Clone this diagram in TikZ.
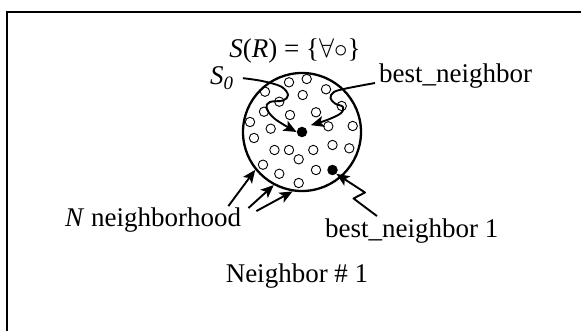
\RequirePackage{fix-cm}
\documentclass[tikz,border=0pt]{standalone}
\usepackage{fontspec}
\setmainfont{Liberation Serif}
\usepackage{tikz}
\usetikzlibrary{arrows.meta}

\begin{document}
\begin{tikzpicture}[x=1pt, y=-1pt,
    lbl/.style={font=\fontsize{27}{32}\selectfont, inner sep=0pt},
    pointer/.style={-{Stealth[length=13pt,width=11pt,inset=3pt]}, line width=1.9pt, line join=round},
    emptysol/.style={line width=0.9pt},
    bestdot/.style={circle, fill=black, inner sep=0pt, minimum size=10.5pt}]
  \useasboundingbox (0,0) rectangle (581,331);

  % Frame (runs off the right and bottom edges)
  \draw[line width=2.2pt] (7,345) -- (7,12) -- (595,12);

  % Solution space with its neighbours
  \node[circle, draw, line width=2.3pt, minimum size=118pt, inner sep=0pt] (space) at (302,132) {};
  \foreach \x/\y in {265/91.7, 289/82.3, 306.7/79, 326/89.3, 302.7/95, 279.3/101.7,
                     341.7/106, 264/111.7, 290/115, 316/112.3, 250/122, 270.7/128.7,
                     328.3/126.3, 352.7/126, 254/138, 274.5/150, 289/150, 313.3/150,
                     332.5/145, 349.3/148.3, 298.7/159.3, 263/164.7, 316/170,
                     279.3/173.8, 298.7/183}
    \draw[emptysol] (\x,\y) circle (4.7);
  \node[bestdot] (sdot) at (302,132) {};
  \node[bestdot] (bdot) at (332.5,170) {};

  % Labels
  \node[lbl, anchor=base] (formula) at (295,58) {\textit{S}(\textit{R}) = \{$\forall\circ$\}};
  \node[lbl, anchor=base west] (s0lbl) at (210,85) {\textit{S}\textsubscript{\textit{0}}};
  \node[lbl, anchor=base west] (bestlbl) at (379,83) {best\_neighbor};
  \node[lbl, anchor=base west] (nbhlbl) at (65,227) {\textit{N} neighborhood};
  \node[lbl, anchor=base west] (bestonelbl) at (325,237) {best\_neighbor 1};
  \node[lbl, anchor=base] (spacelbl) at (297,282) {Neighbor \# 1};

  % S0 pointer
  \draw[pointer] plot[smooth, tension=0.6] coordinates {([xshift=9pt]s0lbl.east) (262,81) (281,86.5)
    (288,95) (283,100.5) (270,102) (266.5,108) (275,119) (sdot.west)};

  % best_neighbor pointer
  \draw[pointer] plot[smooth, tension=0.6] coordinates {([xshift=-4pt]bestlbl.base west) (347,88.3)
    (334,92) (330.5,98) (335,103.5) (343,107) (340.5,113.5) (327,120) ([xshift=5pt,yshift=3pt]sdot.north east)};

  % best_neighbor 1 pointer
  \draw[pointer] ([xshift=52pt,yshift=2pt]bestonelbl.north west) -- (353.5,198.5) -- (365,192.5) -- (bdot.south east);

  % N neighborhood pointers
  \draw[pointer] ([xshift=-13pt,yshift=2pt]nbhlbl.north east) -- (space.219);
  \draw[pointer] ([xshift=7pt]nbhlbl.north east) -- (space.242);
  \draw[pointer] ([xshift=15pt,yshift=-3pt]nbhlbl.north east) -- (space.261);
\end{tikzpicture}
\end{document}
